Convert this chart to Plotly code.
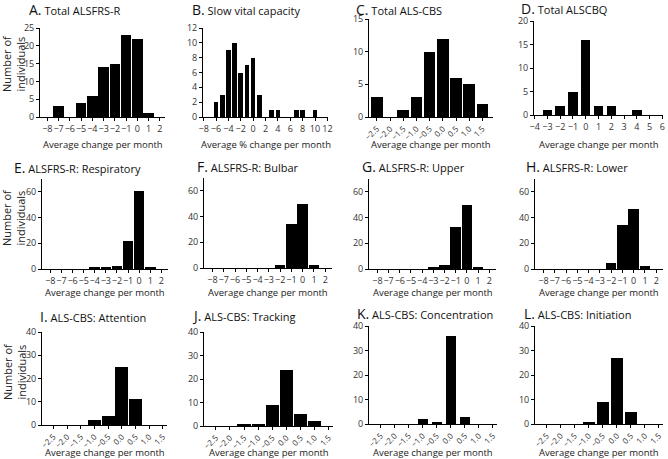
import plotly.graph_objects as go
from plotly.subplots import make_subplots

W, H = 668, 459
FONT = "Open Sans"

# ---------------- data ----------------
int_bins = [-8, -7, -6, -5, -4, -3, -2, -1, 0, 1, 2]
svc_bins = [-6, -5, -4, -3, -2, -1, 0, 1, 2, 3, 4, 5, 6, 7, 8, 9, 10]
cbs_bins = [-2.5, -2.0, -1.5, -1.0, -0.5, 0.0, 0.5, 1.0, 1.5]
cbq_bins = [-3, -2, -1, 0, 1, 2, 3, 4]

a_counts = [0, 3, 0, 4, 6, 14, 15, 23, 22, 1, 0]
b_counts = [2, 3, 9, 10, 6, 7, 8, 3, 0, 1, 1, 0, 0, 1, 1, 0, 1]
c_counts = [3, 0, 1, 3, 10, 12, 6, 5, 2]
d_counts = [1, 2, 5, 16, 2, 2, 0, 1]
e_counts = [0, 0, 0, 0, 1, 1, 2, 22, 61, 1, 0]
f_counts = [0, 0, 0, 0, 0, 0, 2, 34, 50, 2, 0]
g_counts = [0, 0, 0, 0, 0, 1, 3, 33, 50, 1, 0]
h_counts = [0, 0, 0, 0, 0, 0, 5, 34, 47, 2, 0]
i_counts = [0, 0, 0, 2, 4, 25, 11, 0, 0]
j_counts = [0, 0, 1, 1, 9, 24, 5, 2, 0]
k_counts = [0, 0, 0, 2, 1, 36, 3, 0, 0]
l_counts = [0, 0, 0, 1, 9, 27, 5, 0, 0]

letters = ["A.", "B.", "C.", "D.", "E.", "F.", "G.", "H.", "I.", "J.", "K.", "L."]
titles = ["Total ALSFRS-R", "Slow vital capacity", "Total ALS-CBS", "Total ALSCBQ",
          "ALSFRS-R: Respiratory", "ALSFRS-R: Bulbar", "ALSFRS-R: Upper", "ALSFRS-R: Lower",
          "ALS-CBS: Attention", "ALS-CBS: Tracking", "ALS-CBS: Concentration", "ALS-CBS: Initiation"]
xtitles = ["Average change per month", "Average % change per month",
           "Average change per month", "Average change per month"] + ["Average change per month"] * 8
ytitle = "Number of<br>individuals"

bins_list = [int_bins, svc_bins, cbs_bins, cbq_bins,
             int_bins, int_bins, int_bins, int_bins,
             cbs_bins, cbs_bins, cbs_bins, cbs_bins]
counts_list = [a_counts, b_counts, c_counts, d_counts,
               e_counts, f_counts, g_counts, h_counts,
               i_counts, j_counts, k_counts, l_counts]

# ---------------- layout parameters ----------------
# pixel boxes: x0, x1, ytop, ybottom
boxes = [(40, 165, 28, 117), (203, 328, 28, 117), (369, 493, 19, 117), (534, 663, 21, 115),
         (42, 168, 179, 269), (204, 332, 178, 268), (369, 496, 179, 269), (535, 663, 179, 269),
         (42, 167, 332, 425), (204, 333, 332, 426), (369, 497, 326, 424), (535, 663, 326, 424)]
title_pos = [(27, 9), (190, 9), (354, 9), (519, 8),
             (12, 167), (195, 166), (360, 166), (524, 166),
             (38, 316), (190, 315), (355, 313), (522, 313)]
bar_w = [0.92, 0.75, 0.44, 0.74, 0.95, 0.95, 0.95, 0.95, 0.47, 0.47, 0.37, 0.44]
rot_font = dict(family=FONT, size=8, color="#333")
int_x = dict(range=[-8.65, 2.45], tickvals=int_bins, tickangle=0)
xcfg = [int_x,
        dict(range=[-8.1, 12.1], tickvals=list(range(-8, 13, 2)), tickangle=0),
        dict(range=[-2.8, 1.9], tickvals=cbs_bins, tickformat=".1f", tickangle=-45, tickfont=rot_font),
        dict(range=[-4.05, 6.05], tickvals=list(range(-4, 7)), tickangle=0),
        dict(range=[-8.75, 2.6], tickvals=int_bins, tickangle=0),
        dict(range=[-8.75, 2.6], tickvals=int_bins, tickangle=0),
        dict(range=[-8.75, 2.6], tickvals=int_bins, tickangle=0),
        dict(range=[-8.75, 2.6], tickvals=int_bins, tickangle=0)] + \
       [dict(range=[-2.92, 1.65], tickvals=cbs_bins, tickformat=".1f", tickangle=-45,
             tickfont=rot_font)] * 4
ycfg = [dict(range=[0, 25], dtick=5), dict(range=[0, 12], dtick=2),
        dict(range=[0, 15], dtick=5), dict(range=[0, 20], dtick=5)] + \
       [dict(range=[0, 70], tickvals=[0, 20, 40, 60])] * 4 + \
       [dict(range=[0, 40], dtick=10)] * 4
xtitle_y = [144] * 4 + [292] * 4 + [452] * 4
ytitle_y = [64, 218, 372]

fig = make_subplots(rows=3, cols=4)

annotations = []
for i in range(12):
    r, c = i // 4 + 1, i % 4 + 1
    fig.add_trace(go.Bar(x=bins_list[i], y=counts_list[i], width=bar_w[i],
                         marker=dict(color="black", line=dict(width=0)),
                         showlegend=False, hoverinfo="x+y"), row=r, col=c)
    x0, x1, yt, yb = boxes[i]
    axn = "" if i == 0 else str(i + 1)
    common = dict(showgrid=False, zeroline=False, showline=True, linecolor="black",
                  linewidth=1, ticks="outside", ticklen=3, tickwidth=1, tickcolor="black",
                  automargin=False,
                  tickfont=dict(family=FONT, size=9, color="#333"))
    xc = dict(common)
    xc.update(xcfg[i])
    fig.layout["xaxis" + axn].update(domain=[x0 / W, x1 / W], **xc)
    fig.layout["yaxis" + axn].update(domain=[1 - yb / H, 1 - yt / H], **common, **ycfg[i])
    tx, ty = title_pos[i]
    annotations.append(dict(
        text="<span style='font-size:14px'>%s</span> %s" % (letters[i], titles[i]),
        x=tx / W, y=1 - ty / H, xref="paper", yref="paper", xanchor="left", yanchor="middle",
        showarrow=False, font=dict(family=FONT, size=11, color="#111")))
    annotations.append(dict(
        text=xtitles[i], x=(x0 + x1) / 2 / W, y=1 - xtitle_y[i] / H, xref="paper", yref="paper",
        xanchor="center", yanchor="middle", showarrow=False,
        font=dict(family=FONT, size=9.5, color="#222")))

for yy in ytitle_y:
    annotations.append(dict(
        text=ytitle, x=14 / W, y=1 - yy / H, xref="paper", yref="paper", textangle=-90,
        xanchor="center", yanchor="middle", showarrow=False,
        font=dict(family=FONT, size=11, color="#222")))

fig.update_layout(width=W, height=H, margin=dict(l=0, r=0, t=0, b=0, autoexpand=False),
                  paper_bgcolor="white", plot_bgcolor="white", bargap=0,
                  annotations=annotations, font=dict(family=FONT))

fig.write_html("out.html", config={"displayModeBar": False},
               post_script="document.body.style.margin='0';document.body.style.padding='0';")
